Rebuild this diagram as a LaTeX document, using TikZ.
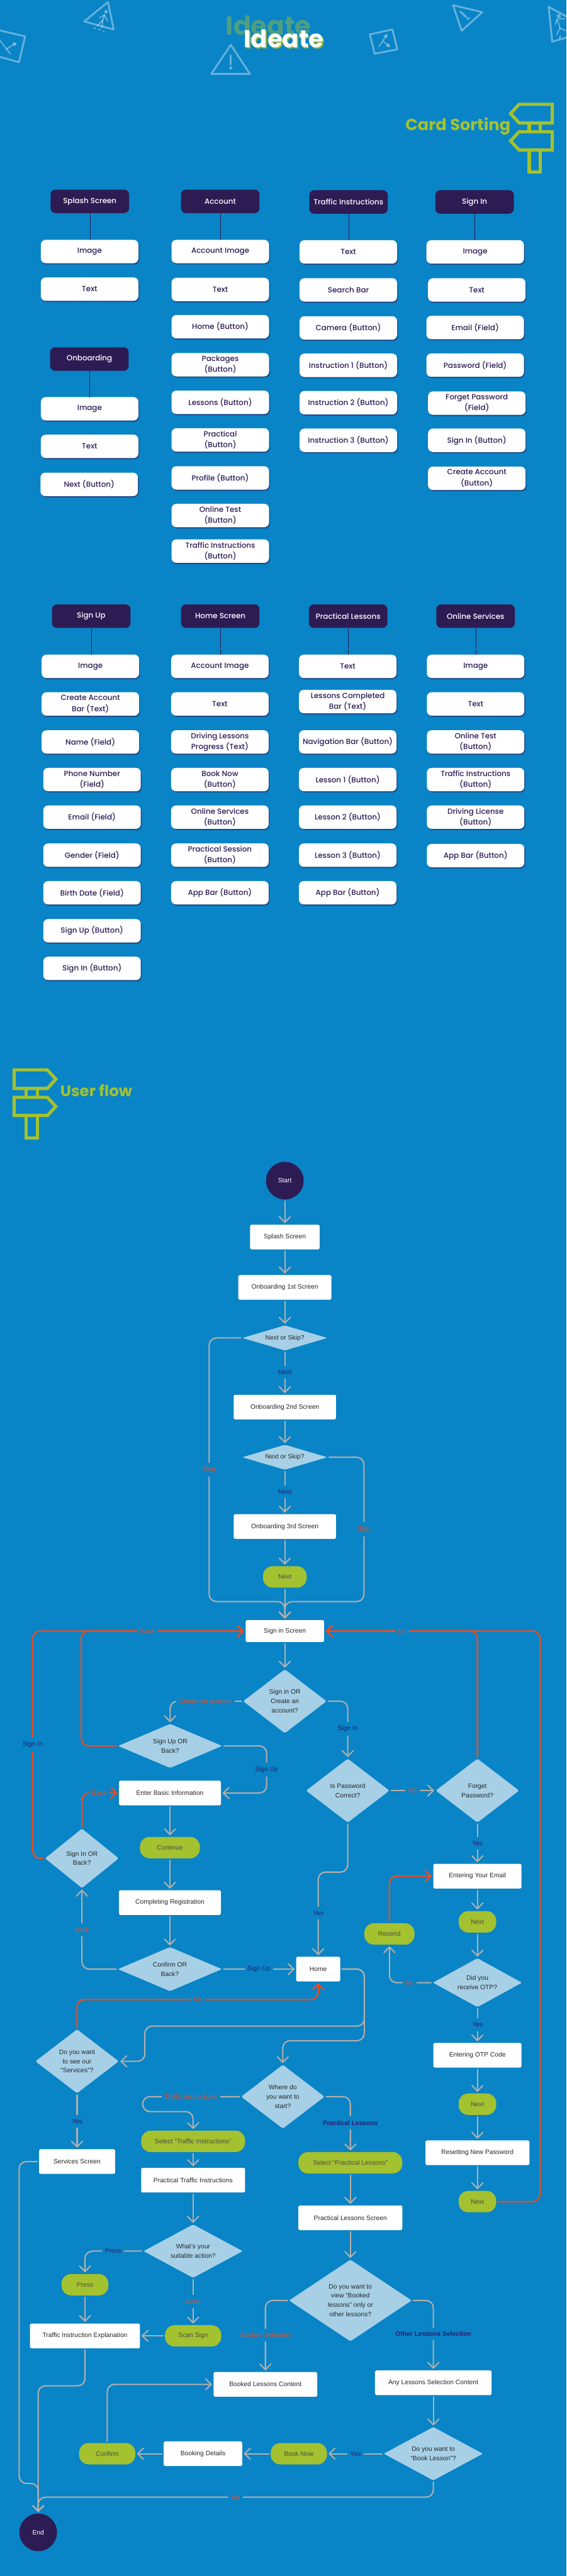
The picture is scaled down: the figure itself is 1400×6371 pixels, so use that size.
\documentclass[tikz,border=0pt]{standalone}
\usepackage{fontspec}
\usepackage{xcolor}
\usetikzlibrary{arrows.meta,shapes.geometric,shadows}
\setmainfont{Liberation Sans}
\newfontfamily\cardfont{Poppins Medium}
\newfontfamily\headfont{Poppins}
\definecolor{bgblue}{HTML}{0984C6}
\definecolor{darkpurple}{HTML}{2D1B54}
\definecolor{leafgreen}{HTML}{A4C12F}
\definecolor{palediamond}{HTML}{A7D0E7}
\definecolor{flowgray}{HTML}{B5AFAA}
\definecolor{backred}{HTML}{F04B1C}
\definecolor{labelnavy}{HTML}{2D1B6B}
\tikzset{
  headbox/.style={rectangle,rounded corners=12pt,fill=darkpurple,text=white,minimum width=194pt,minimum height=58pt,inner sep=0pt,font=\cardfont\fontsize{18.5}{27}\selectfont},
  cardbox/.style={rectangle,rounded corners=12pt,fill=white,text=darkpurple,minimum width=241pt,minimum height=58pt,inner sep=0pt,align=center,font=\cardfont\fontsize{18.5}{27}\selectfont,drop shadow={shadow xshift=2pt,shadow yshift=-3pt,fill=darkpurple,opacity=.55}},
  linkdot/.style={draw=darkpurple,line width=.6pt,densely dotted},
  signline/.style={draw=white,opacity=.38,line width=4.5pt,line join=round,line cap=round},
  signdetail/.style={draw=white,opacity=.38,line width=3pt,line cap=round},
  postline/.style={draw=leafgreen,line width=8pt,line join=miter},
  screenbox/.style={rectangle,rounded corners=3pt,fill=white,text=black!85,minimum height=61pt,inner sep=0pt,align=center,font=\fontsize{16}{23}\selectfont},
  pillbox/.style={rectangle,rounded corners=24pt,fill=leafgreen,text=black!70,minimum height=53pt,inner sep=0pt,align=center,font=\fontsize{16}{23}\selectfont},
  endcircle/.style={circle,fill=darkpurple,text=white,minimum size=93pt,inner sep=0pt,font=\fontsize{16}{23}\selectfont},
  choicebox/.style={diamond,fill=palediamond,text=black!85,rounded corners=3pt,inner sep=0pt,align=center,font=\fontsize{16}{23}\selectfont},
  flowline/.style={draw=flowgray,line width=3.2pt,line cap=round,rounded corners=18pt,shorten >=4pt,shorten <=4pt,-{Straight Barb[length=14pt,width=27pt,round]}},
  backline/.style={flowline,draw=backred,line width=3.6pt},
  navylabel/.style={fill=bgblue,text=labelnavy,inner xsep=7pt,inner ysep=10pt,font=\fontsize{16}{23}\selectfont},
  redlabel/.style={fill=bgblue,text=backred,inner xsep=7pt,inner ysep=10pt,font=\fontsize{16}{23}\selectfont},
}
\begin{document}
\begin{tikzpicture}[x=1pt,y=-1pt]
\useasboundingbox (0,0) rectangle (1400,6371);
\fill[bgblue] (0,0) rectangle (1400,6371);
% road signs at the top
\begin{scope}
\clip (0,0) rectangle (1400,200);
\draw[signline] (267,5) -- (281,73) -- (208,53) -- cycle;
\fill[white,opacity=.38] (262,29) circle (4.5pt);
\draw[signdetail] (258,37) -- (254,50) -- (241,64);
\draw[signdetail] (254,50) -- (252,68);
\draw[signdetail] (246,44) -- (258,37) -- (266,52);
\draw[signdetail] (232,69) -- (236,70);
\draw[signdetail] (244,73) -- (248,74);
\draw[signdetail] (255,77) -- (258,79);
\draw[signline] (-10,73) -- (62,90) -- (47,154) -- (-10,138);
\draw[signdetail] (0,100) -- (26,134);
\draw[signdetail,-{Latex[length=10pt,width=12pt]}] (15,122) -- (42,105);
\draw[signline] (570.5,111) -- (618,183) -- (522,183) -- cycle;
\draw[signdetail,line width=5pt] (570.5,137) -- (570.5,160);
\fill[white,opacity=.38] (570.5,168) circle (4pt);
\draw[signline] (914,85) -- (970,73) -- (982,122) -- (926,133) -- cycle;
\draw[signdetail,-{Latex[length=10pt,width=12pt]}] (937,115) -- (958,83);
\draw[signdetail,-{Latex[length=10pt,width=12pt]}] (948,103) -- (965,117);
\draw[signline] (1120,13) -- (1192,30) -- (1141,76) -- cycle;
\draw[signdetail,line width=5pt] (1138,29) -- (1152,42);
\fill[white,opacity=.38] (1157,46) circle (3.5pt);
\draw[signline] (1356,17) -- (1410,46) -- (1410,90) -- (1365,103) -- cycle;
\fill[white,opacity=.38] (1381,40) circle (5.5pt);
\draw[signdetail] (1378,50) -- (1384,70) -- (1376,85);
\draw[signdetail] (1384,70) -- (1398,76);
\draw[signdetail] (1373,60) -- (1376,48) -- (1396,46);
\draw[signdetail] (1383,95) -- (1385,88);
\end{scope}
% title
\node[font=\headfont\bfseries\fontsize{64}{70}\selectfont,text=leafgreen,opacity=.45,anchor=base] (ideatea) at (663.5,87) {Ideate};
\node[font=\headfont\bfseries\fontsize{60}{66}\selectfont,text=leafgreen,anchor=base] (ideateb) at (704.5,120) {Ideate};
\node[font=\headfont\bfseries\fontsize{60}{66}\selectfont,text=white,anchor=base] (ideatec) at (701.5,117) {Ideate};
% card sorting heading
\node[font=\headfont\bfseries\fontsize{40}{44}\selectfont,text=leafgreen,anchor=base] (cardword) at (1132,323) {Card Sorting};
\draw[postline] (1365,258) -- (1283,258) -- (1262,281) -- (1283,304) -- (1365,304) -- cycle;
\draw[postline] (1365,326) -- (1283,326) -- (1262,348.5) -- (1283,371) -- (1365,371) -- cycle;
\draw[postline] (1308,304) -- (1308,326);
\draw[postline] (1335,304) -- (1335,326);
\draw[postline] (1308,371) -- (1308,426) -- (1335,426) -- (1335,371);
% first row of cards
\node[headbox] (hsplash) at (222,498) {Splash Screen};
\node[cardbox] (csplasha) at (221.5,622) {Image};
\node[cardbox] (csplashb) at (221.5,715) {Text};
\node[headbox] (honboard) at (221,888) {Onboarding};
\node[cardbox] (conboarda) at (221.5,1011) {Image};
\node[cardbox] (conboardb) at (221.5,1104) {Text};
\node[cardbox] (conboardc) at (220.5,1198) {Next (Button)};
\node[headbox] (haccount) at (544.5,498) {Account};
\node[cardbox] (caccounta) at (544.5,622) {Account Image};
\node[cardbox] (caccountb) at (544.5,716) {Text};
\node[cardbox] (caccountc) at (544.5,808) {Home (Button)};
\node[cardbox] (caccountd) at (544.5,902) {Packages\\(Button)};
\node[cardbox] (caccounte) at (544.5,995) {Lessons (Button)};
\node[cardbox] (caccountf) at (544.5,1088) {Practical\\(Button)};
\node[cardbox] (caccountg) at (544.5,1182) {Profile (Button)};
\node[cardbox] (caccounth) at (544.5,1275) {Online Test\\(Button)};
\node[cardbox] (caccounti) at (544.5,1363) {Traffic Instructions\\(Button)};
\node[headbox] (htraffic) at (861.5,499.5) {Traffic Instructions};
\node[cardbox] (ctraffica) at (861,623) {Text};
\node[cardbox] (ctrafficb) at (861,717) {Search Bar};
\node[cardbox] (ctrafficc) at (861,811) {Camera (Button)};
\node[cardbox] (ctrafficd) at (861,903.5) {Instruction 1 (Button)};
\node[cardbox] (ctraffice) at (861,996) {Instruction 2 (Button)};
\node[cardbox] (ctrafficf) at (861,1089) {Instruction 3 (Button)};
\node[headbox] (hsignin) at (1173,499.5) {Sign In};
\node[cardbox] (csignina) at (1174.5,623) {Image};
\node[cardbox] (csigninb) at (1178.5,717) {Text};
\node[cardbox] (csigninc) at (1174.5,810) {Email (Field)};
\node[cardbox] (csignind) at (1174.5,903) {Password (Field)};
\node[cardbox] (csignine) at (1178.5,997) {Forget Password\\(Field)};
\node[cardbox] (csigninf) at (1178.5,1089) {Sign In (Button)};
\node[cardbox] (csigning) at (1178.5,1183) {Create Account\\(Button)};
% second row of cards
\node[headbox] (hsignup) at (225.5,1524) {Sign Up};
\node[cardbox] (csignupa) at (223.5,1648) {Image};
\node[cardbox] (csignupb) at (223.5,1741) {Create Account\\Bar (Text)};
\node[cardbox] (csignupc) at (223.5,1835) {Name (Field)};
\node[cardbox] (csignupd) at (227.5,1928) {Phone Number\\(Field)};
\node[cardbox] (csignupe) at (227.5,2021) {Email (Field)};
\node[cardbox] (csignupf) at (227.5,2115) {Gender (Field)};
\node[cardbox] (csignupg) at (227.5,2208) {Birth Date (Field)};
\node[cardbox] (csignuph) at (227.5,2302) {Sign Up (Button)};
\node[cardbox] (csignupi) at (227.5,2395) {Sign In (Button)};
\node[headbox] (hhome) at (544.5,1524) {Home Screen};
\node[cardbox] (chomea) at (543.5,1648) {Account Image};
\node[cardbox] (chomeb) at (543.5,1741) {Text};
\node[cardbox] (chomec) at (543.5,1835) {Driving Lessons\\Progress (Text)};
\node[cardbox] (chomed) at (543.5,1928) {Book Now\\(Button)};
\node[cardbox] (chomee) at (543.5,2021) {Online Services\\(Button)};
\node[cardbox] (chomef) at (543.5,2115) {Practical Session\\(Button)};
\node[cardbox] (chomeg) at (543.5,2208) {App Bar (Button)};
\node[headbox] (hpractical) at (860.5,1524) {Practical Lessons};
\node[cardbox] (cpractica) at (859.5,1648) {Text};
\node[cardbox] (cpracticb) at (859.5,1735) {Lessons Completed\\Bar (Text)};
\node[cardbox] (cpracticc) at (859.5,1835) {Navigation Bar (Button)};
\node[cardbox] (cpracticd) at (859.5,1928) {Lesson 1 (Button)};
\node[cardbox] (cpractice) at (859.5,2021) {Lesson 2 (Button)};
\node[cardbox] (cpracticf) at (859.5,2115) {Lesson 3 (Button)};
\node[cardbox] (cpracticg) at (859.5,2208) {App Bar (Button)};
\node[headbox] (honline) at (1175.5,1524) {Online Services};
\node[cardbox] (conlinea) at (1175.5,1648) {Image};
\node[cardbox] (conlineb) at (1175.5,1741) {Text};
\node[cardbox] (conlinec) at (1175.5,1835) {Online Test\\(Button)};
\node[cardbox] (conlined) at (1175.5,1928) {Traffic Instructions\\(Button)};
\node[cardbox] (conlinee) at (1175.5,2021) {Driving License\\(Button)};
\node[cardbox] (conlinef) at (1175.5,2116) {App Bar (Button)};
% dotted links under the card headers
\draw[linkdot] (hsplash.south) -- (hsplash.south |- csplasha.north);
\draw[linkdot] (honboard.south) -- (honboard.south |- conboarda.north);
\draw[linkdot] (haccount.south) -- (haccount.south |- caccounta.north);
\draw[linkdot] (htraffic.south) -- (htraffic.south |- ctraffica.north);
\draw[linkdot] (hsignin.south) -- (hsignin.south |- csignina.north);
\draw[linkdot] (hsignup.south) -- (hsignup.south |- csignupa.north);
\draw[linkdot] (hhome.south) -- (hhome.south |- chomea.north);
\draw[linkdot] (hpractical.south) -- (hpractical.south |- cpractica.north);
\draw[linkdot] (honline.south) -- (honline.south |- conlinea.north);
% user flow heading
\node[font=\headfont\bfseries\fontsize{38}{42}\selectfont,text=leafgreen,anchor=base] (flowword) at (238,2712) {User flow};
\draw[postline] (35,2646) -- (117,2646) -- (138,2669) -- (117,2692) -- (35,2692) -- cycle;
\draw[postline] (35,2714) -- (117,2714) -- (138,2736.5) -- (117,2759) -- (35,2759) -- cycle;
\draw[postline] (92,2692) -- (92,2714);
\draw[postline] (65,2692) -- (65,2714);
\draw[postline] (92,2759) -- (92,2814) -- (65,2814) -- (65,2759);
% flow: start to sign in
\node[endcircle] (start) at (704,2920) {Start};
\node[screenbox,minimum width=172pt] (splash) at (704,3059.5) {Splash Screen};
\node[screenbox,minimum width=230pt] (onba) at (704,3184) {Onboarding 1st Screen};
\node[choicebox,minimum width=210pt,minimum height=62pt,aspect=3.4] (dnexta) at (704,3309) {Next or Skip?};
\node[screenbox,minimum width=253pt] (onbb) at (704,3480) {Onboarding 2nd Screen};
\node[choicebox,minimum width=210pt,minimum height=62pt,aspect=3.4] (dnextb) at (704,3604) {Next or Skip?};
\node[screenbox,minimum width=253pt] (onbc) at (704,3775.5) {Onboarding 3rd Screen};
\node[pillbox,minimum width=108pt] (pnexta) at (704,3900) {Next};
\node[screenbox,minimum width=194pt,minimum height=54pt] (signin) at (704,4034) {Sign in Screen};
% flow: sign in and sign up
\node[choicebox,minimum width=206pt,minimum height=158pt,aspect=1.3] (dsign) at (704,4207.5) {Sign in OR\\Create an\\account?};
\node[choicebox,minimum width=257pt,minimum height=109pt,aspect=2.3] (dsignup) at (420.5,4318) {Sign Up OR\\Back?};
\node[screenbox,minimum width=252pt] (enter) at (420,4434.5) {Enter Basic Information};
\node[pillbox,minimum width=148pt] (pcontinue) at (420,4569.5) {Continue};
\node[screenbox,minimum width=252pt] (complete) at (420,4705.5) {Completing Registration};
\node[choicebox,minimum width=257pt,minimum height=109pt,aspect=2.3] (dconfirm) at (420,4870) {Confirm OR\\Back?};
\node[choicebox,minimum width=182pt,minimum height=147pt,aspect=1.2] (dsigninb) at (202.5,4596) {Sign In OR\\Back?};
\node[choicebox,minimum width=206pt,minimum height=158pt,aspect=1.3] (dpass) at (859.5,4428.5) {Is Password\\Correct?};
\node[choicebox,minimum width=206pt,minimum height=158pt,aspect=1.3] (dforget) at (1180,4428.5) {Forget\\Password?};
\node[screenbox,minimum width=218pt] (email) at (1180,4640) {Entering Your Email};
\node[pillbox,minimum width=93pt] (pnextb) at (1180,4753) {Next};
\node[pillbox,minimum width=124pt] (presend) at (962.5,4783) {Resend};
\node[choicebox,minimum width=220pt,minimum height=121pt,aspect=1.8] (dotp) at (1180,4903.5) {Did you\\receive OTP?};
\node[screenbox,minimum width=218pt] (otp) at (1180,5083) {Entering OTP Code};
\node[pillbox,minimum width=93pt] (pnextc) at (1180,5204) {Next};
\node[screenbox,minimum width=257pt] (reset) at (1180,5324) {Resetting New Password};
\node[pillbox,minimum width=93pt] (pnextd) at (1180,5445) {Next};
\node[screenbox,minimum width=109pt] (home) at (786.5,4870) {Home};
% flow: home and services
\node[choicebox,minimum width=206pt,minimum height=158pt,aspect=1.3] (dservices) at (190.5,5098) {Do you want\\to see our\\“Services”?};
\node[screenbox,minimum width=188pt] (services) at (190.5,5346) {Services Screen};
\node[choicebox,minimum width=206pt,minimum height=158pt,aspect=1.3] (dwhere) at (699,5185.5) {Where do\\you want to\\start?};
\node[pillbox,minimum width=257pt] (ptraffic) at (477.3,5296) {Select “Traffic Instructions”};
\node[screenbox,minimum width=257pt] (traffic) at (477.3,5392) {Practical Traffic Instructions};
\node[choicebox,minimum width=245pt,minimum height=132pt,aspect=1.9] (daction) at (477.3,5567.5) {What’s your\\suitable action?};
\node[pillbox,minimum width=116pt] (ppress) at (210,5650.5) {Press};
\node[screenbox,minimum width=272pt] (explain) at (210,5777) {Traffic Instruction Explanation};
\node[pillbox,minimum width=139pt] (pscan) at (477.3,5777) {Scan Sign};
\node[pillbox,minimum width=257pt] (ppractical) at (866,5349) {Select “Practical Lessons”};
\node[screenbox,minimum width=257pt] (practical) at (866,5485) {Practical Lessons Screen};
\node[choicebox,minimum width=303pt,minimum height=202pt,aspect=1.5] (dview) at (866,5689.5) {Do you want to\\view “Booked\\lessons” only or\\other lessons?};
\node[screenbox,minimum width=256pt] (booked) at (656,5897) {Booked Lessons Content};
\node[screenbox,minimum width=288pt] (anylesson) at (1071,5893) {Any Lessons Selection Content};
\node[choicebox,minimum width=245pt,minimum height=132pt,aspect=1.9] (dbook) at (1071,6068.5) {Do you want to\\“Book Lesson”?};
\node[pillbox,minimum width=139pt] (pbook) at (738.6,6068.5) {Book Now};
\node[screenbox,minimum width=194pt] (details) at (501.6,6068.5) {Booking Details};
\node[pillbox,minimum width=139pt] (pconfirm) at (265,6068.5) {Confirm};
\node[endcircle] (end) at (94.4,6263) {End};
% free bends of the connectors
\coordinate (skipa) at (517,3961);
\coordinate (skipb) at (899.5,3961);
\coordinate (backa) at (201,4034);
\coordinate (backb) at (81,4034);
\coordinate (noa) at (1335,4034);
\coordinate (signupa) at (659,4376);
\coordinate (passa) at (786.5,4630);
\coordinate (homea) at (900.5,5011);
\coordinate (homeb) at (358,5011);
\coordinate (homec) at (900.5,5047);
\coordinate (redno) at (786.5,4945.4);
\coordinate (loopa) at (352.7,5185.5);
\coordinate (loopb) at (352.7,5222.4);
\coordinate (svca) at (47.3,6142);
\coordinate (expa) at (94.4,5900.5);
\coordinate (noend) at (94.4,6176);
% connectors
\draw[flowline] (start) -- (splash);
\draw[flowline] (splash) -- (onba);
\draw[flowline] (onba) -- (dnexta);
\draw[flowline] (dnexta) -- (onbb);
\draw[flowline] (onbb) -- (dnextb);
\draw[flowline] (dnextb) -- (onbc);
\draw[flowline] (onbc) -- (pnexta);
\draw[flowline] (pnexta) -- (signin);
\draw[flowline] (dnexta.west) -| (skipa) -| (signin.north);
\draw[flowline] (dnextb.east) -| (skipb) -| (signin.north);
\draw[flowline] (signin) -- (dsign);
\draw[flowline] (dsign.west) -| (dsignup.north);
\draw[flowline] (dsign.east) -| (dpass.north);
\draw[flowline] (dsignup.east) -| (signupa) |- (enter.east);
\draw[flowline] (enter) -- (pcontinue);
\draw[flowline] (pcontinue) -- (complete);
\draw[flowline] (complete) -- (dconfirm);
\draw[flowline] (dconfirm.west) -| (dsigninb.south);
\draw[flowline] (dconfirm.east) -- (home.west);
\draw[flowline] (dpass.east) -- (dforget.west);
\draw[flowline] (dpass.south) |- (passa) -- (home.north);
\draw[flowline] (dforget) -- (email);
\draw[flowline] (email) -- (pnextb);
\draw[flowline] (pnextb) -- (dotp);
\draw[flowline] (dotp.west) -| (presend.south);
\draw[flowline] (dotp) -- (otp);
\draw[flowline] (otp) -- (pnextc);
\draw[flowline] (pnextc) -- (reset);
\draw[flowline] (reset) -- (pnextd);
\draw[flowline] (home.east) -| (homea) -- (homeb) |- (dservices.east);
\draw[flowline] (home.east) -| (homec) -| (dwhere.north);
\draw[flowline] (dservices) -- (services);
\draw[flowline] (services.west) -| (svca) -| (end.north);
\draw[flowline] (dwhere.west) -- (loopa) -- (loopb) -| (ptraffic.north);
\draw[flowline] (dwhere.east) -| (ppractical.north);
\draw[flowline] (ptraffic) -- (traffic);
\draw[flowline] (traffic) -- (daction);
\draw[flowline] (daction.west) -| (ppress.north);
\draw[flowline] (ppress) -- (explain);
\draw[flowline] (daction) -- (pscan);
\draw[flowline] (pscan) -- (explain);
\draw[flowline] (explain.south) |- (expa) -- (end.north);
\draw[flowline] (ppractical) -- (practical);
\draw[flowline] (practical) -- (dview);
\draw[flowline] (dview.west) -| (booked.north);
\draw[flowline] (dview.east) -| (anylesson.north);
\draw[flowline] (anylesson) -- (dbook);
\draw[flowline] (dbook) -- (pbook);
\draw[flowline] (pbook) -- (details);
\draw[flowline] (details) -- (pconfirm);
\draw[flowline] (pconfirm.north) |- (booked.west);
\draw[flowline] (dbook.south) |- (noend) -- (end.north);
\draw[backline] (dsignup.west) -| (backa) -- (signin.west);
\draw[backline] (dsigninb.west) -| (backb) -- (signin.west);
\draw[backline] (dsigninb.north) |- (enter.west);
\draw[backline] (dforget.north) |- (signin.east);
\draw[backline] (pnextd.east) -| (noa) -- (signin.east);
\draw[backline] (presend.north) |- (email.west);
\draw[backline] (dservices.north) |- (redno) -- (home.south);
% labels on the connectors
\node[navylabel] (lnexta) at (704,3394) {Next};
\node[navylabel] (lnextb) at (704,3690) {Next};
\node[redlabel] (lskipa) at (517,3635) {Skip};
\node[redlabel] (lskipb) at (899.5,3782) {Skip};
\node[redlabel] (lbacka) at (364,4034) {Back};
\node[redlabel] (lnoa) at (994,4034) {No};
\node[redlabel] (lcreate) at (508,4207.5) {Create an account};
\node[navylabel] (lsignina) at (859.5,4275.5) {Sign In};
\node[navylabel] (lsigninb) at (81,4315) {Sign In};
\node[navylabel] (lsignupa) at (659,4376.5) {Sign Up};
\node[redlabel] (lbackb) at (245,4434.5) {Back};
\node[redlabel] (lnob) at (1019.6,4428.5) {No};
\node[navylabel] (lyesa) at (1180,4558.7) {Yes};
\node[navylabel] (lyesb) at (786.5,4731.6) {Yes};
\node[redlabel] (lbackc) at (202.7,4773) {Back};
\node[navylabel] (lsignupb) at (640,4870) {Sign Up};
\node[redlabel] (lnoc) at (1013,4903.5) {No};
\node[redlabel] (lnod) at (488,4945.4) {No};
\node[navylabel] (lyesc) at (1180,5007.6) {Yes};
\node[redlabel] (ltraffic) at (472,5185.5) {Traffic Instructions};
\node[navylabel] (lyesd) at (190.5,5246) {Yes};
\node[navylabel,font=\bfseries\fontsize{16}{23}\selectfont] (lpractical) at (866,5250.5) {Practical Lessons};
\node[navylabel] (lpress) at (279.5,5567.5) {Press};
\node[redlabel] (lscan) at (477.3,5692) {Scan};
\node[redlabel] (lbooked) at (656.5,5775) {Booked Selection};
\node[navylabel,font=\bfseries\fontsize{16}{23}\selectfont] (lother) at (1071,5772.5) {Other Lessons Selection};
\node[navylabel] (lyese) at (879,6068.5) {Yes};
\node[redlabel] (lnoe) at (582.6,6176) {No};
\end{tikzpicture}
\end{document}
